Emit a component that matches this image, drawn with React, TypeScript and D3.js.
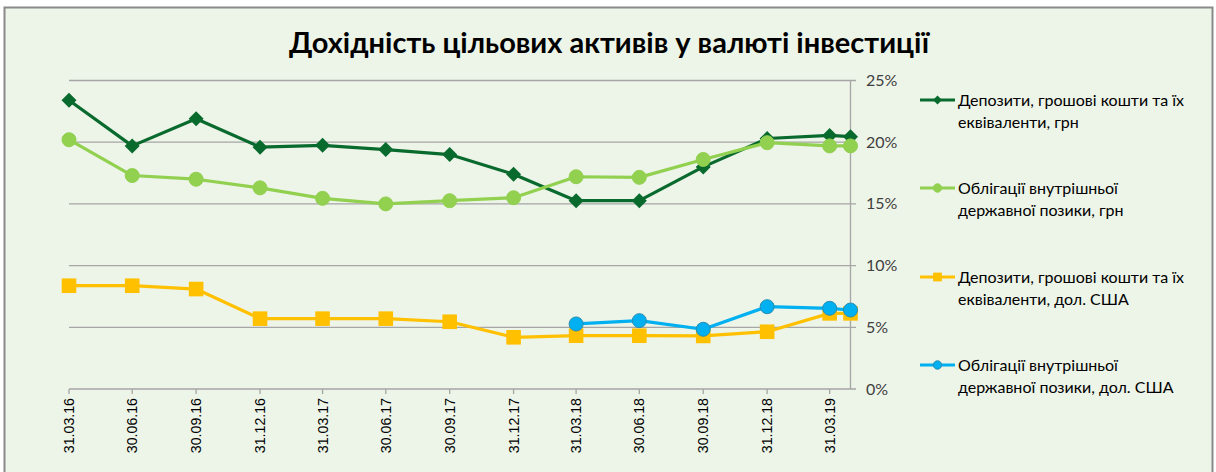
import React from "react";
import * as d3 from "d3";

const dates = ["31.03.16","30.06.16","30.09.16","31.12.16","31.03.17","30.06.17","30.09.17","31.12.17","31.03.18","30.06.18","30.09.18","31.12.18","31.03.19","30.04.19"];
const tickLabels = ["31.03.16","30.06.16","30.09.16","31.12.16","31.03.17","30.06.17","30.09.17","31.12.17","31.03.18","30.06.18","30.09.18","31.12.18","31.03.19"];
const depUah = [23.4,19.7,21.9,19.6,19.75,19.4,19.0,17.4,15.26,15.26,18.0,20.3,20.55,20.45];
const bondsUah = [20.2,17.3,17.0,16.3,15.45,15.0,15.26,15.5,17.2,17.15,18.6,19.96,19.7,19.7];
const depUsd = [8.37,8.37,8.1,5.7,5.7,5.7,5.45,4.19,4.32,4.32,4.3,4.64,6.13,6.13];
const bondsUsd = [null,null,null,null,null,null,null,null,5.27,5.54,4.84,6.67,6.54,6.4];
const yTicks = [0,5,10,15,20,25];

const seriesNames = [
  ["Депозити, грошові кошти та їх", "еквіваленти, грн"],
  ["Облігації внутрішньої", "державної позики, грн"],
  ["Депозити, грошові кошти та їх", "еквіваленти, дол. США"],
  ["Облігації внутрішньої", "державної позики, дол. США"],
];

const parse = d3.timeParse("%d.%m.%y");

export default function App() {
  const W = 1216, H = 472;
  const x = d3.scaleTime().domain([parse(dates[0])!, parse(dates[dates.length - 1])!]).range([69, 850.5]);
  const y = d3.scaleLinear().domain([0, 25]).range([389, 80.5]);
  const series = [
    { vals: depUah, color: "#096A2E", marker: "diamond", stroke: "#096A2E" },
    { vals: bondsUah, color: "#92D050", marker: "circle", stroke: "#92D050" },
    { vals: depUsd, color: "#FFC000", marker: "square", stroke: "#FFC000" },
    { vals: bondsUsd, color: "#00B0F0", marker: "circle", stroke: "#2A8DB0" },
  ];
  const line = d3.line<[Date, number | null]>()
    .defined(d => d[1] != null)
    .x(d => x(d[0]))
    .y(d => y(d[1] as number));

  const marker = (type: string, cx: number, cy: number, fill: string, stroke: string, key: any, s = 1) => {
    if (type === "diamond") {
      const r = 7.5 * s;
      return <path key={key} d={`M${cx},${cy - r}L${cx + r},${cy}L${cx},${cy + r}L${cx - r},${cy}Z`} fill={fill} />;
    }
    if (type === "square") {
      const r = 7.3 * s;
      return <rect key={key} x={cx - r} y={cy - r} width={2 * r} height={2 * r} fill={fill} />;
    }
    return <circle key={key} cx={cx} cy={cy} r={7 * s} fill={fill} stroke={stroke} strokeWidth={1} />;
  };

  const legendY = [100, 188, 277, 365];

  return (
    <div style={{ position: "absolute", left: 0, top: 0 }}>
      <svg width={W} height={H} style={{ display: "block" }}>
        <rect x={0} y={0} width={W} height={H} fill="#FFFFFF" />
        <rect x={4.5} y={7.5} width={1208} height={480} fill="#EDF4E8" stroke="#8A8A8A" strokeWidth={2} />
        <text x={609} y={53} textAnchor="middle" fontFamily="Lato, 'Open Sans', sans-serif" fontWeight="bold" fontSize={29} fill="#000">
          Дохідність цільових активів у валюті інвестиції
        </text>
        {yTicks.filter(t => t > 0).map(t => (
          <line key={t} x1={69} x2={856} y1={y(t)} y2={y(t)} stroke="#A6A6A6" strokeWidth={1.3} />
        ))}
        <line x1={69} x2={856} y1={y(0)} y2={y(0)} stroke="#A6A6A6" strokeWidth={1.3} />
        <line x1={850.5} x2={850.5} y1={y(25)} y2={y(0)} stroke="#A6A6A6" strokeWidth={1.3} />
        {yTicks.map(t => (
          <text key={t} x={866} y={y(t) + 5.5} fontFamily="Lato, 'Open Sans', sans-serif" fontSize={16} fill="#404040">{t}%</text>
        ))}
        {tickLabels.map(l => {
          const px = x(parse(l)!);
          return (
            <g key={l}>
              <line x1={px} x2={px} y1={y(0)} y2={y(0) + 5} stroke="#A6A6A6" strokeWidth={1.3} />
              <text transform={`translate(${px + 5},${398}) rotate(-90)`} textAnchor="end" fontFamily="'Liberation Sans', Arial, sans-serif" fontSize={14.2} fill="#000">{l}</text>
            </g>
          );
        })}
        {series.map((s, i) => {
          const pts: [Date, number | null][] = dates.map((d, j) => [parse(d)!, s.vals[j]]);
          return (
            <g key={i}>
              <path d={line(pts) || ""} fill="none" stroke={s.color} strokeWidth={3.2} strokeLinejoin="round" />
              {pts.filter(p => p[1] != null).map((p, j) => marker(s.marker, x(p[0]), y(p[1] as number), s.color, s.stroke, j))}
            </g>
          );
        })}
        {series.map((s, i) => (
          <g key={"lg" + i}>
            <line x1={920} x2={955} y1={legendY[i]} y2={legendY[i]} stroke={s.color} strokeWidth={3.2} />
            {marker(s.marker, 937.5, legendY[i], s.color, s.stroke, "m", 0.6)}
            <text x={958} y={legendY[i] + 6} fontFamily="Lato, 'Open Sans', sans-serif" fontSize={16} fill="#000">
              <tspan x={958}>{seriesNames[i][0]}</tspan>
              <tspan x={958} dy={21.5}>{seriesNames[i][1]}</tspan>
            </text>
          </g>
        ))}
      </svg>
    </div>
  );
}
